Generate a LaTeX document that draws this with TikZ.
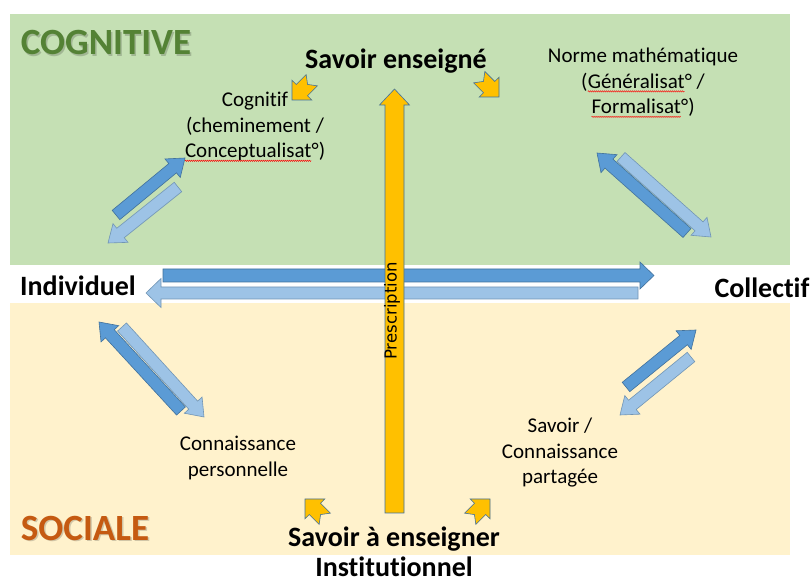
\documentclass[tikz,border=0pt]{standalone}
\usepackage{fontspec}
\setmainfont{Carlito}[Ligatures=NoCommon]
\newfontfamily\prescfont{DejaVu Sans}
\usetikzlibrary{calc,decorations.pathmorphing}

\definecolor{greenzone}{HTML}{C5E0B4}
\definecolor{beigezone}{HTML}{FFF2CC}
\definecolor{arrowdark}{HTML}{5B9BD5}
\definecolor{arrowlight}{HTML}{9DC3E6}
\definecolor{arrowedge}{HTML}{41719C}
\definecolor{gold}{HTML}{FFC000}
\definecolor{cogngreen}{HTML}{548235}
\definecolor{socorange}{HTML}{C55A11}

% red spelling wave under a word
\newcommand{\redwave}[1]{\tikz[baseline=(w.base)]{\node[inner sep=0pt, outer sep=0pt] (w) {#1};
  \draw[red, line width=0.4pt, decorate, decoration={zigzag, amplitude=0.7pt, segment length=2pt}]
    ([yshift=-3pt]w.base west) -- ([yshift=-3pt]w.base east);}}

% block arrow: [style]{tail}{tip}{shaft half width}{head half width}{head length}
\newcommand{\blockarrow}[6][]{%
  \draw[#1] let \p1=(#2), \p2=(#3),
      \n1={atan2(\y2-\y1,\x2-\x1)}, \n2={veclen(\x2-\x1,\y2-\y1)-#6} in
    (\p1) ++(\n1+90:#4) -- ++(\n1:\n2) -- ++(\n1+90:#5-#4) -- (\p2)
    -- ($(\p1)+(\n1:\n2)+(\n1-90:#5)$) -- ++(\n1+90:#5-#4) -- ++(\n1+180:\n2) -- cycle;}

% small notched arrow: {tip}{direction}
\newcommand{\notcharrow}[2]{%
  \draw[goldarrow, shift={(#1)}, rotate=#2]
    (0,0) -- (-14,14) -- (-14,8) -- (-28,8) -- (-22,0) -- (-28,-8) -- (-14,-8) -- (-14,-14) -- cycle;}

\tikzset{
  darkarrow/.style={fill=arrowdark, draw=arrowedge, line width=0.6pt, line join=miter},
  lightarrow/.style={fill=arrowlight, draw=arrowedge!75, line width=0.6pt, line join=miter},
  goldarrow/.style={fill=gold, draw=arrowedge, line width=0.6pt, line join=miter},
  txt/.style={font=\fontsize{21}{25.5}\selectfont, align=center, inner sep=0pt},
  boldtxt/.style={font=\fontsize{28}{34}\selectfont\bfseries, inner sep=0pt},
  zonetitle/.style={font=\fontsize{37}{44}\selectfont\bfseries, inner sep=0pt},
  presc/.style={font=\prescfont\fontsize{16.5}{20}\selectfont, inner sep=0pt}
}

\begin{document}
\begin{tikzpicture}[x=1pt,y=1pt]
\useasboundingbox (0,0) rectangle (811,583);

% zones
\fill[greenzone] (10,318) rectangle (790,569);
\fill[beigezone] (10,28) rectangle (790,280);

% arrow ends
\coordinate (hzdarkA) at (163,307.5);
\coordinate (hzdarkB) at (654,307.5);
\coordinate (hzlightA) at (638,290);
\coordinate (hzlightB) at (146,290);
\coordinate (prescA) at (394.5,70);
\coordinate (prescB) at (394.5,494);
\coordinate (tldarkA) at (116,368);
\coordinate (tldarkB) at (185,425);
\coordinate (tllightA) at (178,396);
\coordinate (tllightB) at (108,340);
\coordinate (trdarkA) at (687,350);
\coordinate (trdarkB) at (597,430);
\coordinate (trlightA) at (621,426);
\coordinate (trlightB) at (711,346);
\coordinate (bldarkA) at (181,172);
\coordinate (bldarkB) at (99,261);
\coordinate (bllightA) at (122,256);
\coordinate (bllightB) at (204,166);
\coordinate (brdarkA) at (626,196);
\coordinate (brdarkB) at (696,253);
\coordinate (brlightA) at (691,226);
\coordinate (brlightB) at (620,168);

% individuel <-> collectif
\blockarrow[darkarrow]{hzdarkA}{hzdarkB}{6.5}{13.5}{14}
\blockarrow[lightarrow]{hzlightA}{hzlightB}{6}{14.5}{15}

% prescription
\blockarrow[goldarrow]{prescA}{prescB}{9.5}{15}{16}

% diagonal pairs
\blockarrow[darkarrow]{tldarkA}{tldarkB}{6}{12}{16}
\blockarrow[lightarrow]{tllightA}{tllightB}{6}{12}{16}
\blockarrow[darkarrow]{trdarkA}{trdarkB}{6}{12}{16}
\blockarrow[lightarrow]{trlightA}{trlightB}{6}{12}{16}
\blockarrow[darkarrow]{bldarkA}{bldarkB}{6}{12}{16}
\blockarrow[lightarrow]{bllightA}{bllightB}{6}{12}{16}
\blockarrow[darkarrow]{brdarkA}{brdarkB}{6}{12}{16}
\blockarrow[lightarrow]{brlightA}{brlightB}{6}{12}{16}

% small arrows round the knowledge labels
\notcharrow{292,483}{225}
\notcharrow{499,486}{-45}
\notcharrow{305,84}{135}
\notcharrow{490,84}{45}

% zone titles
\node[zonetitle, text=black, opacity=.18] (cogshadow) at (107.5,538.5) {COGNITIVE};
\node[zonetitle, text=cogngreen] (cognitive) at (106,540) {COGNITIVE};
\node[zonetitle, text=black, opacity=.18] (socshadow) at (86.5,53.5) {SOCIALE};
\node[zonetitle, text=socorange] (sociale) at (85,55) {SOCIALE};

% labels
\node[boldtxt] (enseigne) at (396,522) {Savoir enseigné};
\node[txt] (norme) at (643,500) {Norme mathématique\\(\redwave{Généralisat}° /\\\redwave{Formalisat}°)};
\node[txt] (cognitif) at (255,456) {Cognitif\\(cheminement /\\\redwave{Conceptualisat}°)};
\node[boldtxt] (individuel) at (78,297) {Individuel};
\node[boldtxt] (collectif) at (762,295) {Collectif};
\node[txt] (personnelle) at (238,125) {Connaissance\\personnelle};
\node[txt] (partagee) at (560,130) {Savoir /\\Connaissance\\partagée};
\node[boldtxt] (aenseigner) at (394,44) {Savoir à enseigner};
\node[boldtxt] (institution) at (394,16) {Institutionnel};
\node[presc, rotate=90] (prescription) at (392,272) {Prescription};
\end{tikzpicture}
\end{document}
